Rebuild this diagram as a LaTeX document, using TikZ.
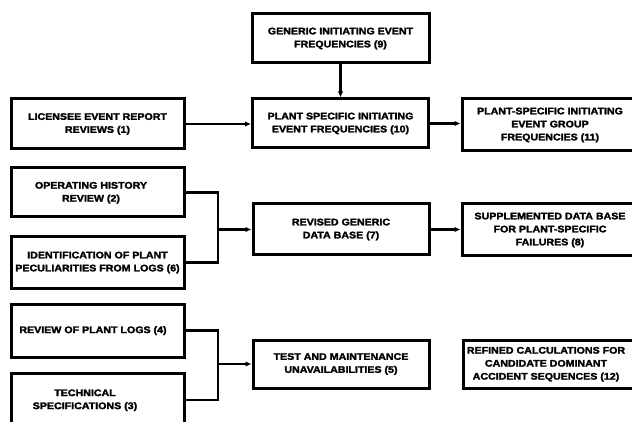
\documentclass[tikz,border=0pt]{standalone}
\usepackage{fontspec}
\newfontfamily\boxfont{Liberation Sans Bold}[FakeStretch=1.12,FakeBold=2.4]
\usetikzlibrary{arrows.meta}
% text block whose lines sit left of the box centre by half of #1
\newcommand\leftlines[2]{\begin{tabular}{@{}c@{}}#2\end{tabular}\hspace*{#1}}
\tikzset{
  blk/.style={draw, line width=3pt, inner sep=0pt, align=center,
    font=\boxfont\fontsize{9.5}{13}\selectfont},
  link/.style={line width=2.2pt},
  feed/.style={link, -{Latex[length=6pt,width=5.5pt]}},
}
\begin{document}
\begin{tikzpicture}[x=1pt,y=-1pt]
\clip (0,0) rectangle (632,422);
\fill[white] (0,0) rectangle (632,422);

% top row
\node[blk, minimum width=177pt, minimum height=49pt] (b9) at (340.5,38.5)
  {GENERIC INITIATING EVENT\\FREQUENCIES (9)};
\node[blk, minimum width=173pt, minimum height=50pt] (b1) at (97.5,124)
  {LICENSEE EVENT REPORT\\REVIEWS (1)};
\node[blk, minimum width=176pt, minimum height=49pt] (b10) at (340.5,123.5)
  {PLANT SPECIFIC INITIATING\\EVENT FREQUENCIES (10)};
\node[blk, minimum width=176pt, minimum height=52pt] (b11) at (550,125)
  {PLANT-SPECIFIC INITIATING\\EVENT GROUP\\FREQUENCIES (11)};

% middle row
\node[blk, minimum width=173pt, minimum height=49pt] (b2) at (97.5,192.5)
  {\leftlines{13pt}{OPERATING HISTORY\\REVIEW (2)}};
\node[blk, minimum width=173pt, minimum height=51pt] (b6) at (97.5,262.5)
  {IDENTIFICATION OF PLANT\\PECULIARITIES FROM LOGS (6)};
\node[blk, minimum width=176pt, minimum height=51pt] (b7) at (341,229.5)
  {REVISED GENERIC\\DATA BASE (7)};
\node[blk, minimum width=176pt, minimum height=52pt] (b8) at (550,230)
  {SUPPLEMENTED DATA BASE\\FOR PLANT-SPECIFIC\\FAILURES (8)};

% bottom row
\node[blk, minimum width=173pt, minimum height=53pt] (b4) at (97.5,330.5)
  {\leftlines{9pt}{REVIEW OF PLANT LOGS (4)}};
\node[blk, minimum width=173pt, minimum height=54pt] (b3) at (97.5,400)
  {\leftlines{25pt}{TECHNICAL\\SPECIFICATIONS (3)}};
\node[blk, minimum width=176pt, minimum height=48pt] (b5) at (341,364)
  {TEST AND MAINTENANCE\\UNAVAILABILITIES (5)};
\node[blk, minimum width=176pt, minimum height=48pt] (b12) at (551,364)
  {\leftlines{10pt}{REFINED CALCULATIONS FOR\\CANDIDATE DOMINANT\\ACCIDENT SEQUENCES (12)}};

% connectors
\draw[feed] (b9.south) -- (b10.north);
\draw[feed] (b1.east) -- (b1.east -| b10.west);
\draw[feed] (b10.east) -- (b10.east -| b11.west);

\coordinate (ja) at (218,229.5);
\draw[link] (b2.east) -| (ja) |- (b6.east);
\draw[feed] (ja) -- (b7.west);
\draw[feed] (b7.east) -- (b7.east -| b8.west);

\coordinate (jb) at (218,364);
\draw[link] (b4.east) -| (jb) |- (b3.east);
\draw[feed] (jb) -- (b5.west);
\end{tikzpicture}
\end{document}
